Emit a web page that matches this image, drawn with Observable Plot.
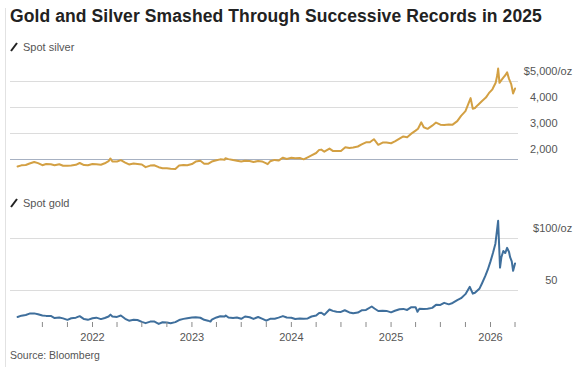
<!DOCTYPE html>
<html>
<head>
<meta charset="utf-8">
<script src="https://cdn.jsdelivr.net/npm/d3@7"></script>
<script src="https://cdn.jsdelivr.net/npm/@observablehq/plot@0.6"></script>
<style>
  html, body { margin: 0; padding: 0; background: #fff; }
  #wrap { position: relative; width: 579px; height: 367px; overflow: hidden; background: #fff; font-family: "Liberation Sans", Arial, sans-serif; }
  .abs { position: absolute; }
  #frame { left: 5px; top: 8px; width: 0; height: 359px; border-left: 1px solid #e2e2e2; }
  #title { left: 10px; top: 6px; font-size: 17.5px; font-weight: bold; color: #222; white-space: nowrap; letter-spacing: 0.1px; }
  .legend { left: 10px; font-size: 11px; color: #555; white-space: nowrap; display: flex; align-items: center; }
  .legend svg { margin-right: 5px; }
  #leg1 { top: 41px; }
  #leg2 { top: 197px; }
  #source { left: 10px; top: 349px; font-size: 10.5px; color: #555; }
  #p1 { left: 0; top: 55px; }
  #p2 { left: 0; top: 210px; }
</style>
</head>
<body>
<div id="wrap">
  <div id="frame" class="abs"></div>
  <div id="title" class="abs">Gold and Silver Smashed Through Successive Records in 2025</div>
  <div id="leg1" class="abs legend"><svg width="8" height="10"><line x1="1" y1="9" x2="7" y2="1" stroke="#222" stroke-width="2"/></svg>Spot silver</div>
  <div id="leg2" class="abs legend"><svg width="8" height="10"><line x1="1" y1="9" x2="7" y2="1" stroke="#222" stroke-width="2"/></svg>Spot gold</div>
  <div id="p1" class="abs"></div>
  <div id="p2" class="abs"></div>
  <div id="source" class="abs">Source: Bloomberg</div>
</div>
<script>
// Top panel series (labelled "Spot silver" in the source chart), $/oz
const topDates = [
  "2021-04-01","2021-04-15","2021-05-01","2021-05-15","2021-06-01","2021-06-15","2021-07-01","2021-07-15","2021-08-01","2021-08-15","2021-09-01","2021-09-15","2021-10-01","2021-10-15","2021-11-01","2021-11-15","2021-12-01","2021-12-15",
  "2022-01-01","2022-01-15","2022-02-01","2022-02-15","2022-03-01","2022-03-08","2022-03-15","2022-04-01","2022-04-15","2022-05-01","2022-05-15","2022-06-01","2022-06-15","2022-07-01","2022-07-15","2022-08-01","2022-08-15","2022-09-01","2022-09-15","2022-10-01","2022-10-15","2022-11-01","2022-11-15","2022-12-01","2022-12-15",
  "2023-01-01","2023-01-15","2023-02-01","2023-02-15","2023-03-01","2023-03-15","2023-04-01","2023-04-15","2023-05-01","2023-05-04","2023-05-15","2023-06-01","2023-06-15","2023-07-01","2023-07-15","2023-08-01","2023-08-15","2023-09-01","2023-09-15","2023-10-01","2023-10-06","2023-10-15","2023-11-01","2023-11-15","2023-12-01","2023-12-15",
  "2024-01-01","2024-01-15","2024-02-01","2024-02-15","2024-03-01","2024-03-15","2024-04-01","2024-04-12","2024-04-20","2024-05-01","2024-05-20","2024-06-01","2024-06-15","2024-07-01","2024-07-17","2024-08-01","2024-08-15","2024-09-01","2024-09-15","2024-10-01","2024-10-15","2024-10-30","2024-11-15","2024-12-01","2024-12-15",
  "2025-01-01","2025-01-15","2025-02-01","2025-02-15","2025-03-01","2025-03-15","2025-04-01","2025-04-10","2025-04-22","2025-05-01","2025-05-15","2025-06-01","2025-06-15","2025-07-01","2025-07-15","2025-08-01","2025-08-15","2025-09-01","2025-09-15","2025-10-01","2025-10-08","2025-10-20","2025-10-28","2025-11-05","2025-11-15","2025-12-01","2025-12-15","2025-12-26",
  "2026-01-08","2026-01-20","2026-01-26","2026-01-29","2026-02-03","2026-02-10","2026-02-17","2026-02-25","2026-03-03","2026-03-10","2026-03-18","2026-03-25","2026-04-01"
];
const topValues = [
  1730,1775,1790,1845,1905,1860,1780,1825,1815,1780,1815,1760,1760,1770,1795,1865,1785,1780,
  1830,1818,1800,1855,1940,2040,1920,1925,1975,1880,1810,1845,1830,1810,1705,1765,1780,1705,1665,1660,1645,1635,1770,1790,1780,
  1825,1920,1950,1835,1835,1920,1970,2005,1990,2050,2015,1980,1955,1920,1955,1945,1905,1940,1925,1850,1820,1930,1985,1960,2070,2020,
  2065,2050,2055,2005,2085,2160,2250,2370,2380,2300,2420,2330,2330,2330,2470,2445,2460,2500,2580,2660,2665,2780,2565,2650,2650,
  2625,2695,2800,2885,2860,2985,3110,3180,3430,3240,3180,3300,3420,3340,3330,3350,3340,3475,3680,3860,4040,4360,3950,3980,4090,4250,4380,4550,
  4700,4950,5250,5500,4950,5050,5150,5250,5350,5100,4900,4540,4730
];

// Bottom panel series (labelled "Spot gold" in the source chart), $/oz
const bottomDates = [
  "2021-04-01","2021-04-15","2021-05-01","2021-05-15","2021-06-01","2021-06-15","2021-07-01","2021-07-15","2021-08-01","2021-08-15","2021-09-01","2021-09-15","2021-10-01","2021-10-15","2021-11-01","2021-11-15","2021-12-01","2021-12-15",
  "2022-01-01","2022-01-15","2022-02-01","2022-02-15","2022-03-01","2022-03-08","2022-03-15","2022-04-01","2022-04-15","2022-05-01","2022-05-15","2022-06-01","2022-06-15","2022-07-01","2022-07-15","2022-08-01","2022-08-15","2022-09-01","2022-09-15","2022-10-01","2022-10-15","2022-11-01","2022-11-15","2022-12-01","2022-12-15",
  "2023-01-01","2023-01-15","2023-02-01","2023-02-15","2023-03-01","2023-03-10","2023-03-15","2023-04-01","2023-04-15","2023-05-01","2023-05-05","2023-05-15","2023-06-01","2023-06-15","2023-07-01","2023-07-15","2023-08-01","2023-08-15","2023-09-01","2023-09-15","2023-10-01","2023-10-15","2023-11-01","2023-11-15","2023-12-01","2023-12-15",
  "2024-01-01","2024-01-15","2024-02-01","2024-02-15","2024-03-01","2024-03-15","2024-04-01","2024-04-12","2024-04-20","2024-05-01","2024-05-20","2024-06-01","2024-06-15","2024-07-01","2024-07-15","2024-08-01","2024-08-15","2024-09-01","2024-09-15","2024-10-01","2024-10-22","2024-11-01","2024-11-15","2024-12-01","2024-12-15",
  "2025-01-01","2025-01-15","2025-02-01","2025-02-15","2025-03-01","2025-03-15","2025-04-01","2025-04-08","2025-04-15","2025-05-01","2025-05-15","2025-06-01","2025-06-15","2025-07-01","2025-07-15","2025-08-01","2025-08-15","2025-09-01","2025-09-15","2025-10-01","2025-10-17","2025-10-28","2025-11-05","2025-11-22","2025-12-01","2025-12-13","2025-12-22",
  "2026-01-01","2026-01-10","2026-01-19","2026-01-29","2026-02-05","2026-02-10","2026-02-17","2026-02-24","2026-03-03","2026-03-10","2026-03-14","2026-03-20","2026-03-25","2026-04-01"
];
const bottomValues = [
  24.5,25.8,26.5,27.8,28.0,27.2,26.0,25.6,25.5,23.5,24.0,23.2,21.8,23.3,23.9,25.3,22.5,21.8,
  23.3,23.9,22.5,23.6,25.0,26.8,25.0,24.6,25.9,22.8,21.0,21.8,21.6,19.8,18.6,20.1,20.3,17.9,19.5,19.2,18.6,19.6,21.6,22.7,23.4,
  24.0,24.3,23.8,21.8,21.0,20.1,22.0,24.1,25.3,25.0,26.0,24.0,23.6,24.0,22.8,25.0,24.3,22.7,24.5,23.0,21.0,22.8,22.9,23.9,25.4,24.0,
  23.8,22.6,23.1,22.8,23.1,25.0,25.9,28.4,28.6,26.6,31.7,30.4,29.6,29.4,31.0,28.9,28.1,28.8,30.9,31.3,34.6,32.7,30.3,30.5,30.4,
  29.0,30.5,32.0,32.3,31.3,33.8,34.0,29.5,32.4,32.3,32.5,33.3,36.2,36.1,38.1,36.7,38.0,40.7,42.6,46.5,53.5,47.0,47.8,52.0,57.0,64.0,70.0,
  78.0,86.0,95.0,117.0,72.0,82.0,88.0,86.0,91.0,87.0,82.0,78.0,69.0,76.0
];

// Axis ticks
const topTicks = [2000, 3000, 4000, 5000];
const bottomTicks = [50, 100];
const yearTicks = ["2022-01-01","2023-01-01","2024-01-01","2025-01-01","2026-01-01"];
const quarterTicks = [
  "2021-07-01","2021-10-01","2022-01-01","2022-04-01","2022-07-01","2022-10-01",
  "2023-01-01","2023-04-01","2023-07-01","2023-10-01","2024-01-01","2024-04-01",
  "2024-07-01","2024-10-01","2025-01-01","2025-04-01","2025-07-01","2025-10-01",
  "2026-01-01","2026-04-01"
];

const parse = d3.utcParse("%Y-%m-%d");
const topData = topDates.map((d, i) => ({date: parse(d), value: topValues[i]}));
const bottomData = bottomDates.map((d, i) => ({date: parse(d), value: bottomValues[i]}));

const xScale = {type: "utc", domain: [parse("2022-01-01"), parse("2026-01-01")], range: [92, 490]};
const font = "'Liberation Sans', Arial, sans-serif";
const fmt = d3.format(",");
const labelStyle = {anchor: "right", tickSize: 0, tickPadding: 0, dx: 39, dy: -10, fontSize: 11, color: "#555", label: null};

const p1 = Plot.plot({
  width: 579, height: 120,
  marginLeft: 10, marginRight: 61, marginTop: 0, marginBottom: 0,
  style: {fontFamily: font, background: "transparent", overflow: "visible"},
  x: {...xScale, axis: null},
  y: {domain: [2000, 5000], range: [104, 26]},
  marks: [
    Plot.gridY(topTicks.filter(d => d > 2000), {stroke: "#dcdcdc", strokeOpacity: 1}),
    Plot.ruleY([topTicks[0]], {stroke: "#a7b1c2", strokeWidth: 1.2}),
    Plot.lineY(topData, {x: "date", y: "value", stroke: "#d3a043", strokeWidth: 2}),
    Plot.axisY(topTicks.slice(0, 3), {...labelStyle, textAnchor: "end", tickFormat: fmt}),
    Plot.axisY(topTicks.slice(3), {...labelStyle, textAnchor: "end", tickFormat: d => "$" + fmt(d)}),
    Plot.axisY(topTicks.slice(3), {...labelStyle, textAnchor: "start", tickFormat: () => "/oz"})
  ]
});
document.getElementById("p1").appendChild(p1);

const p2 = Plot.plot({
  width: 579, height: 135,
  marginLeft: 10, marginRight: 61, marginTop: 0, marginBottom: 23,
  style: {fontFamily: font, background: "transparent", overflow: "visible"},
  x: xScale,
  y: {domain: [50, 100], range: [80, 28]},
  marks: [
    Plot.gridY(bottomTicks, {stroke: "#dcdcdc", strokeOpacity: 1}),
    Plot.lineY(bottomData, {x: "date", y: "value", stroke: "#3f6f9c", strokeWidth: 2}),
    Plot.axisY(bottomTicks.slice(0, 1), {...labelStyle, textAnchor: "end", tickFormat: fmt}),
    Plot.axisY(bottomTicks.slice(1), {...labelStyle, textAnchor: "end", tickFormat: d => "$" + fmt(d)}),
    Plot.axisY(bottomTicks.slice(1), {...labelStyle, textAnchor: "start", tickFormat: () => "/oz"}),
    Plot.axisX(quarterTicks.map(parse), {anchor: "bottom", tickSize: 5, tickFormat: () => "", color: "#8a8a8a", label: null}),
    Plot.axisX(yearTicks.map(parse), {anchor: "bottom", tickSize: 0, tickPadding: 11, tickFormat: d3.utcFormat("%Y"), fontSize: 11, color: "#555", label: null})
  ]
});
document.getElementById("p2").appendChild(p2);
</script>
</body>
</html>
